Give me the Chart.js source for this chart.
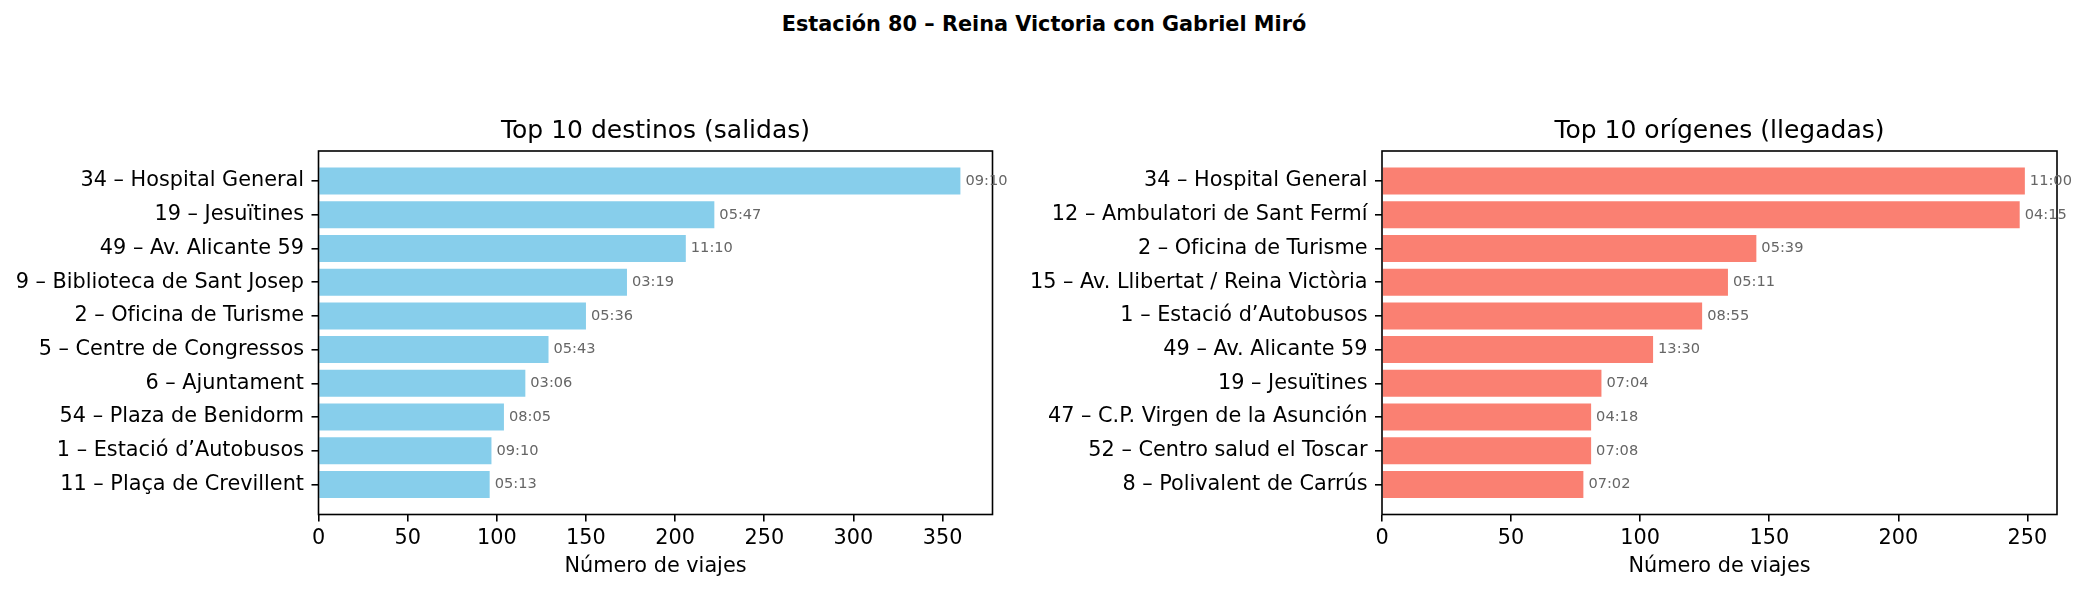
<!DOCTYPE html>
<html lang="es">
<head>
  <meta charset="UTF-8" />
  <script src="https://cdn.jsdelivr.net/npm/chart.js"></script>
  <title>Estación 80 – Reina Victoria con Gabriel Miró</title>
  <style>
    body { margin: 0; background: #fff; width: 2088px; height: 594px; position: relative; overflow: hidden; }
    #suptitulo { position: absolute; left: 0; top: 14px; width: 2088px; text-align: center;
                 font: bold 20.8px 'DejaVu Sans', sans-serif; line-height: 20.8px; color: #000; }
    canvas { position: absolute; top: 0; }
    #graficoSalidas { left: 0; }
    #graficoLlegadas { left: 1000px; }
  </style>
</head>
<body>
  <div id="suptitulo">Estación 80 – Reina Victoria con Gabriel Miró</div>
  <canvas id="graficoSalidas" width="1040" height="594"></canvas>
  <canvas id="graficoLlegadas" width="1088" height="594"></canvas>
  <script>
    const destinos = [
      '34 – Hospital General', '19 – Jesuïtines', '49 – Av. Alicante 59',
      '9 – Biblioteca de Sant Josep', '2 – Oficina de Turisme', '5 – Centre de Congressos',
      '6 – Ajuntament', '54 – Plaza de Benidorm', '1 – Estació d’Autobusos', '11 – Plaça de Crevillent'
    ];
    const viajesSalidas = [360, 222, 206, 173, 150, 129, 116, 104, 97, 96];
    const horasSalidas = ['09:10', '05:47', '11:10', '03:19', '05:36', '05:43', '03:06', '08:05', '09:10', '05:13'];

    const origenes = [
      '34 – Hospital General', '12 – Ambulatori de Sant Fermí', '2 – Oficina de Turisme',
      '15 – Av. Llibertat / Reina Victòria', '1 – Estació d’Autobusos', '49 – Av. Alicante 59',
      '19 – Jesuïtines', '47 – C.P. Virgen de la Asunción', '52 – Centro salud el Toscar', '8 – Polivalent de Carrús'
    ];
    const viajesLlegadas = [249, 247, 145, 134, 124, 105, 85, 81, 81, 78];
    const horasLlegadas = ['11:00', '04:15', '05:39', '05:11', '08:55', '13:30', '07:04', '04:18', '07:08', '07:02'];

    const pasoX = 50;
    const fuente = "'DejaVu Sans', sans-serif";

    // marco de los ejes, titulo del panel y la hora junto a cada barra
    const extras = {
      id: 'extras',
      afterDraw(chart, args, opts) {
        const ctx = chart.ctx;
        const a = chart.chartArea;
        ctx.save();
        ctx.strokeStyle = '#000';
        ctx.lineWidth = 1.6;
        ctx.strokeRect(a.left, a.top, a.right - a.left, a.bottom - a.top);
        ctx.fillStyle = '#000';
        ctx.font = '25px ' + fuente;
        ctx.textAlign = 'center';
        ctx.textBaseline = 'alphabetic';
        ctx.fillText(opts.titulo, (a.left + a.right) / 2, a.top - 13);
        ctx.fillStyle = '#666';
        ctx.font = '14.6px ' + fuente;
        ctx.textAlign = 'left';
        ctx.textBaseline = 'middle';
        chart.getDatasetMeta(0).data.forEach((barra, i) => {
          ctx.fillText(opts.horas[i], barra.x + 5, barra.y);
        });
        ctx.restore();
      }
    };

    function crearGrafico(id, etiquetas, valores, horas, titulo, color, anchoEjeY, margenDerecho) {
      const maximo = Math.max(...valores) * 1.05;
      const n = etiquetas.length;
      return new Chart(document.getElementById(id), {
        type: 'bar',
        data: {
          datasets: [{
            data: valores.map((v, i) => ({ x: v, y: i })),
            backgroundColor: color,
            barPercentage: 0.8,
            categoryPercentage: 1
          }]
        },
        plugins: [extras],
        options: {
          indexAxis: 'y',
          responsive: false,
          animation: false,
          layout: { padding: { top: 151, right: margenDerecho, left: 0, bottom: 0 } },
          plugins: {
            legend: { display: false },
            tooltip: { enabled: false },
            extras: { titulo: titulo, horas: horas }
          },
          scales: {
            x: {
              type: 'linear',
              min: 0,
              max: maximo,
              afterBuildTicks: s => {
                const marcas = [];
                for (let v = 0; v <= maximo; v += pasoX) marcas.push({ value: v });
                s.ticks = marcas;
              },
              ticks: { color: '#000', font: { family: fuente, size: 20.8 }, padding: 5, maxRotation: 0 },
              grid: { drawOnChartArea: false, tickLength: 7, color: '#000', lineWidth: 1.6 },
              border: { display: false },
              title: {
                display: true, text: 'Número de viajes', color: '#000',
                font: { family: fuente, size: 20.8, lineHeight: 1.2 },
                padding: { top: 0, bottom: 14.7 }
              },
              afterFit: s => { s.height = 79.5; }
            },
            y: {
              type: 'linear',
              min: -0.89,
              max: n - 0.11,
              reverse: true,
              offset: false,
              afterBuildTicks: s => { s.ticks = etiquetas.map((_, i) => ({ value: i })); },
              ticks: { autoSkip: false, callback: v => etiquetas[v], color: '#000', font: { family: fuente, size: 20.8 }, padding: 7.5 },
              grid: { offset: false, drawOnChartArea: false, tickLength: 7, color: '#000', lineWidth: 1.6 },
              border: { display: false },
              afterFit: s => { s.width = anchoEjeY; }
            }
          }
        }
      });
    }

    crearGrafico('graficoSalidas', destinos, viajesSalidas, horasSalidas,
      'Top 10 destinos (salidas)', '#87CEEB', 318.5, 47.5);
    crearGrafico('graficoLlegadas', origenes, viajesLlegadas, horasLlegadas,
      'Top 10 orígenes (llegadas)', '#FA8072', 382, 31);
  </script>
</body>
</html>
